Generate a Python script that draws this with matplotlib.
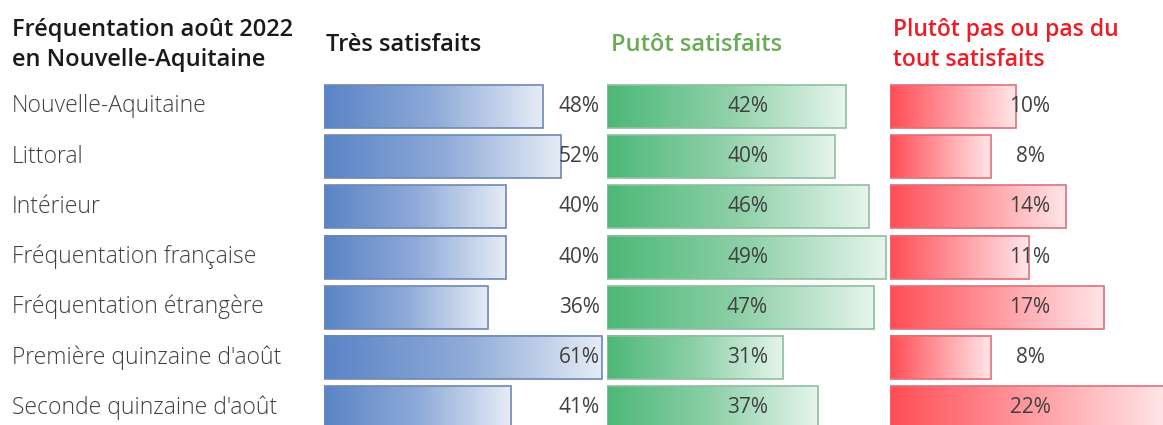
import matplotlib
matplotlib.use("Agg")
import matplotlib.pyplot as plt
import numpy as np
from matplotlib.colors import LinearSegmentedColormap
from matplotlib.transforms import blended_transform_factory

plt.rcParams['font.family'] = ['Open Sans', 'DejaVu Sans']

categories = ["Nouvelle-Aquitaine", "Littoral", "Intérieur",
              "Fréquentation française", "Fréquentation étrangère",
              "Première quinzaine d'août", "Seconde quinzaine d'août"]
tres_satisfaits = [48, 52, 40, 40, 36, 61, 41]
plutot_satisfaits = [42, 40, 46, 49, 47, 31, 37]
pas_satisfaits = [10, 8, 14, 11, 17, 8, 22]

title_text = "Fréquentation août 2022\nen Nouvelle-Aquitaine"
headers = ["Très satisfaits", "Putôt satisfaits", "Plutôt pas ou pas du\ntout satisfaits"]

W, H = 1163, 425
fig = plt.figure(figsize=(W / 100, H / 100), dpi=100)
fig.patch.set_facecolor("white")

# row geometry (pixels)
row0, step = 106.5, 50.17
top_px, bot_px = 80, 425
ylim = ((bot_px - row0) / step, (top_px - row0) / step)
bar_h = 43 / step

panels = [
    # left px, right px, px per %, values, cmap colors, edge, label pos (axes frac), ha
    (324, 605, 4.56, tres_satisfaits, ["#5a84c6", "#8eaad8", "#e6ecf6"], "#7088b4", 0.982, "right"),
    (607, 888, 5.69, plutot_satisfaits, ["#4cb877", "#8ed0a8", "#e6f5ec"], "#8fbf9f", 0.50, "center"),
    (890, 1163, 12.6, pas_satisfaits, ["#ff4d55", "#ff9aa0", "#ffe6e8"], "#e0707c", 0.513, "center"),
]

for (lpx, rpx, ppp, vals, cols, edge, lab_x, ha) in panels:
    ax = fig.add_axes([lpx / W, (H - bot_px) / H, (rpx - lpx) / W, (bot_px - top_px) / H])
    ax.set_axis_off()
    cmap = LinearSegmentedColormap.from_list("g", cols)
    grad = np.linspace(0, 1, 256).reshape(1, -1)
    for i, v in enumerate(vals):
        ax.imshow(grad, extent=[0, v, i + bar_h / 2, i - bar_h / 2], cmap=cmap,
                  aspect="auto", interpolation="bilinear", zorder=1)
    ax.barh(range(len(vals)), vals, height=bar_h, fill=False, edgecolor=edge,
            linewidth=1.2, zorder=2)
    ax.set_xlim(0, (rpx - lpx) / ppp)
    ax.set_ylim(*ylim)
    tr = blended_transform_factory(ax.transAxes, ax.transData)
    for i, v in enumerate(vals):
        ax.text(lab_x, i, f"{v}%", transform=tr, ha=ha, va="center",
                fontsize=15, color="#404040", zorder=3)
    if lpx == 324:
        trc = blended_transform_factory(fig.transFigure, ax.transData)
        for i, c in enumerate(categories):
            ax.text(12 / W, i, c, transform=trc, ha="left", va="center",
                    fontsize=16.5, color="#404040", fontweight="light")

fig.text(12 / W, 1 - 45 / H, title_text, ha="left", va="center", fontsize=17,
         fontweight="semibold", color="#1a1a1a", linespacing=1.3)
fig.text(326 / W, 1 - 45 / H, headers[0], ha="left", va="center", fontsize=17,
         fontweight="semibold", color="#1a1a1a")
fig.text(611 / W, 1 - 45 / H, headers[1], ha="left", va="center", fontsize=17,
         fontweight="semibold", color="#6aab55")
fig.text(893 / W, 1 - 45 / H, headers[2], ha="left", va="center", fontsize=16.5,
         fontweight="semibold", color="#ee1c25", linespacing=1.3)

fig.savefig("out.png", dpi=100)
